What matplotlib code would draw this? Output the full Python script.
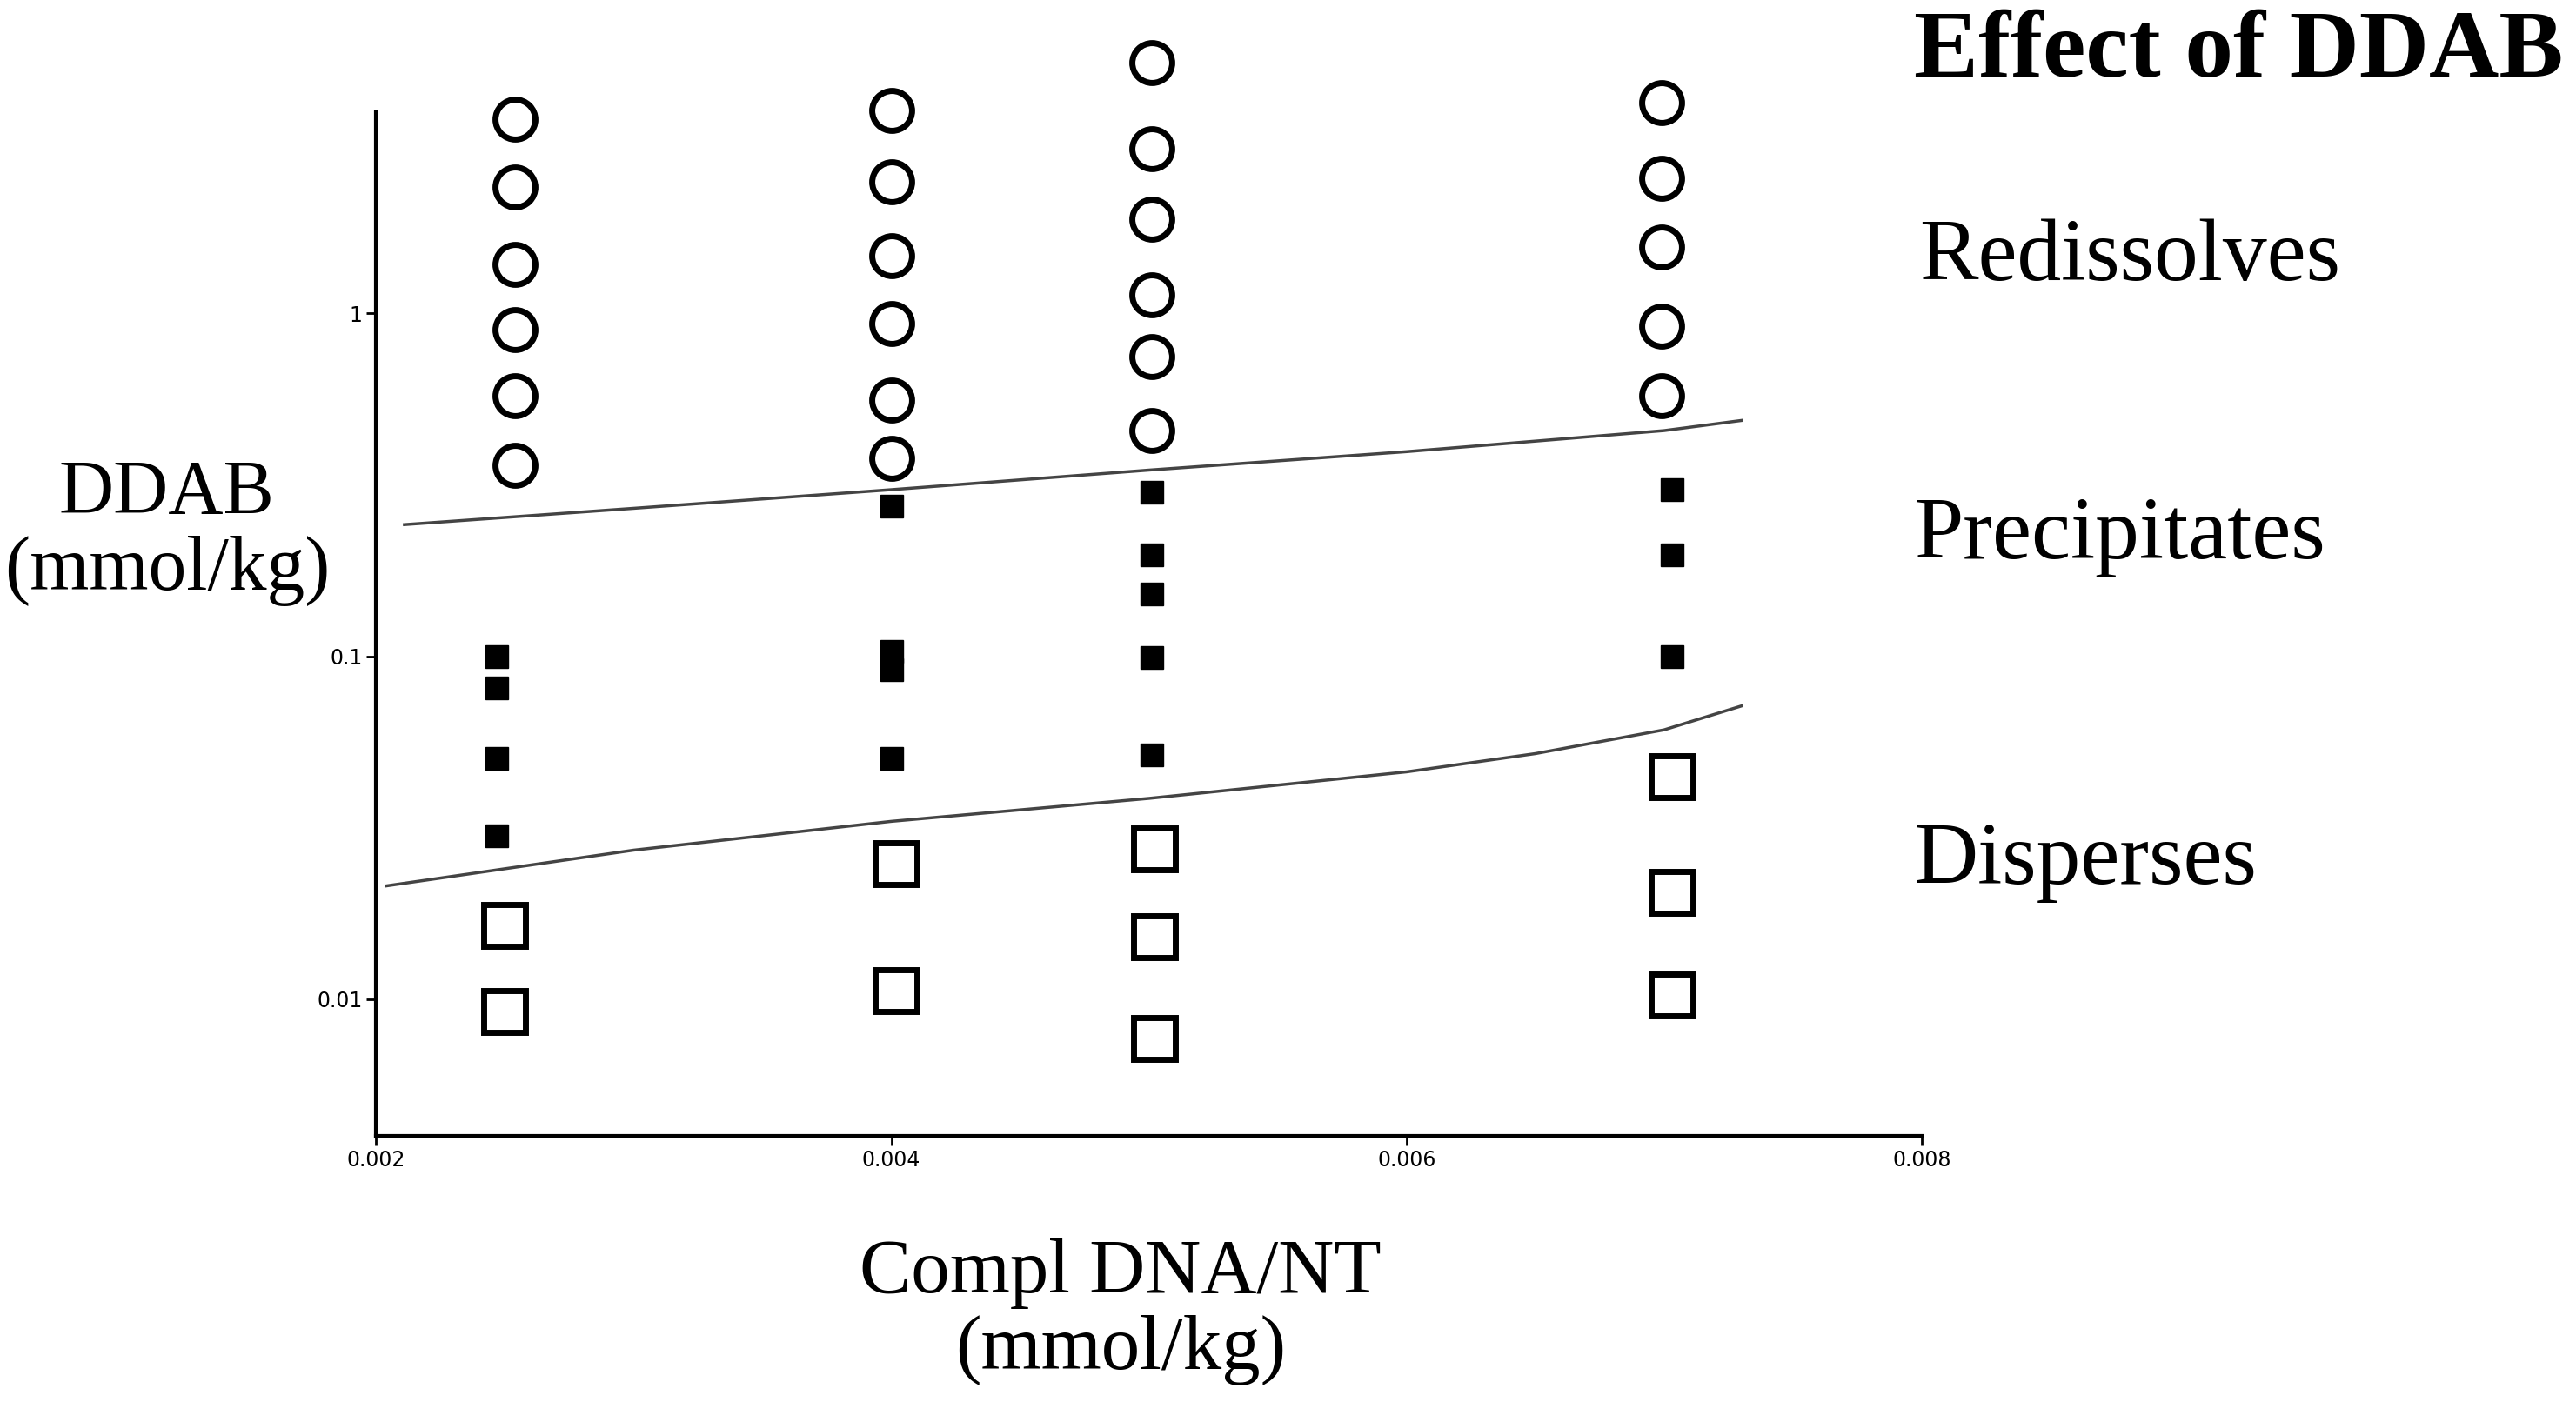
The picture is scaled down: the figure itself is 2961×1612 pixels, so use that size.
import matplotlib
matplotlib.use("Agg")
import matplotlib.pyplot as plt
import numpy as np

# Redissolves (open circles)
circ_x = [0.00254]*6 + [0.0040]*6 + [0.00501]*6 + [0.00699]*5
circ_y = [3.69, 2.34, 1.39, 0.895, 0.575, 0.36,
          3.9, 2.42, 1.47, 0.936, 0.56, 0.377,
          5.38, 3.02, 1.88, 1.13, 0.75, 0.456,
          4.12, 2.48, 1.56, 0.915, 0.575]
# Precipitates (filled squares)
prec_x = [0.00247]*4 + [0.0040]*4 + [0.00501]*5 + [0.00703]*3
prec_y = [0.1, 0.081, 0.0503, 0.030,
          0.274, 0.103, 0.0914, 0.0503,
          0.30, 0.198, 0.152, 0.099, 0.0514,
          0.306, 0.198, 0.10]
# Disperses (open squares)
disp_x = [0.0025]*2 + [0.00402]*2 + [0.00502]*3 + [0.00703]*3
disp_y = [0.0164, 0.0092, 0.0249, 0.0106, 0.0275, 0.0152, 0.0077,
          0.0446, 0.0205, 0.0103]
# Boundary curves
up_x = [0.00211, 0.0030, 0.0040, 0.0050, 0.0060, 0.0070, 0.0073]
up_y = [0.242, 0.27, 0.306, 0.349, 0.395, 0.455, 0.487]
lo_x = [0.00204, 0.0030, 0.0040, 0.0050, 0.0060, 0.0065, 0.0070, 0.0073]
lo_y = [0.0214, 0.0272, 0.0330, 0.0385, 0.046, 0.052, 0.061, 0.0716]

fig = plt.figure(figsize=(29.61, 16.12), dpi=100)
ax = fig.add_axes([0.146, 0.19, 0.60, 0.73])
ax.set_yscale('log')
ax.set_xlim(0.002, 0.008)
ax.set_ylim(0.004, 3.86)
ax.plot(up_x, up_y, color='#444444', lw=2.5, clip_on=False)
ax.plot(lo_x, lo_y, color='#444444', lw=2.5, clip_on=False)
ax.plot(circ_x, circ_y, 'o', ms=33, mfc='white', mec='black', mew=5, clip_on=False)
ax.plot(prec_x, prec_y, 's', ms=19, color='black', clip_on=False)
ax.plot(disp_x, disp_y, 's', ms=34, mfc='white', mec='black', mew=5, clip_on=False)
for s in ['top', 'right']:
    ax.spines[s].set_visible(False)
for s in ['left', 'bottom']:
    ax.spines[s].set_linewidth(3)
ax.set_xticks([0.002, 0.004, 0.006, 0.008])
ax.set_xticklabels(['0.002', '0.004', '0.006', '0.008'])
ax.set_yticks([0.01, 0.1, 1])
ax.set_yticklabels(['0.01', '0.1', '1'])
ax.yaxis.set_minor_locator(matplotlib.ticker.NullLocator())
ax.tick_params(labelsize=17, length=8, width=2)

serif = 'Liberation Serif'
fig.text(0.128, 0.62, 'DDAB\n(mmol/kg)', ha='right', va='center', fontsize=63,
         family=serif, linespacing=1.1, multialignment='center')
fig.text(0.435, 0.012, 'Compl DNA/NT\n(mmol/kg)', ha='center', va='bottom', fontsize=64,
         family=serif, linespacing=1.1)
fig.text(0.995, 0.962, 'Effect of DDAB', ha='right', va='center', fontsize=80,
         family=serif, weight='bold')
fig.text(0.745, 0.815, 'Redissolves', ha='left', va='center', fontsize=73, family=serif)
fig.text(0.743, 0.617, 'Precipitates', ha='left', va='center', fontsize=73, family=serif)
fig.text(0.743, 0.385, 'Disperses', ha='left', va='center', fontsize=73, family=serif)
fig.savefig('out.png', dpi=100)
